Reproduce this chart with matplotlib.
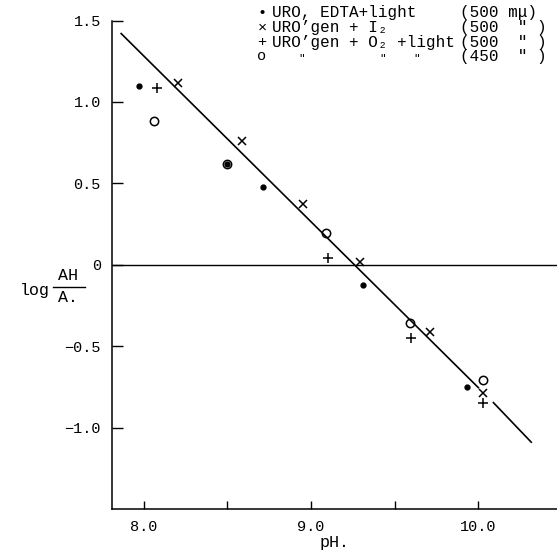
import matplotlib
matplotlib.use("Agg")
import matplotlib.pyplot as plt
from matplotlib.lines import Line2D

# URO, EDTA + light (500 mu)
ph_dot = [7.97, 8.50, 8.71, 9.31, 9.93]
log_dot = [1.10, 0.62, 0.48, -0.125, -0.75]
# URO'gen + I2 (500)
ph_x = [8.205, 8.59, 8.95, 9.29, 9.71, 10.03]
log_x = [1.115, 0.76, 0.37, 0.015, -0.415, -0.79]
# URO'gen + O2 + light (500)
ph_plus = [8.08, 9.10, 9.60, 10.03]
log_plus = [1.085, 0.04, -0.45, -0.85]
# same, 450
ph_circ = [8.06, 8.50, 9.09, 9.59, 10.03]
log_circ = [0.88, 0.62, 0.195, -0.36, -0.71]

# fitted line, drawn in two pieces (gap near pH 10)
fit_ph_a = [7.865, 10.0]
fit_log_a = [1.42, -0.755]
fit_ph_b = [10.09, 10.316]
fit_log_b = [-0.847, -1.09]

xticks_major = [8.0, 9.0, 10.0]
xticks_minor = [8.5, 9.5]
xlabels = ["8.0", "9.0", "10.0"]
yticks = [1.5, 1.0, 0.5, 0, -0.5, -1.0]
ylabels = ["1.5", "1.0", "0.5", "0", "\u22120.5", "\u22121.0"]

legend_rows = [
    ("\u2022", "URO, EDTA+light", "(500 m\u03bc)"),
    ("\u00d7", "URO\u2019gen + I\u2082", "(500  \u02ba )"),
    ("+", "URO\u2019gen + O\u2082 +light", "(500  \u02ba )"),
    ("o", "", "(450  \u02ba )"),
]

FONT = "Liberation Mono"
plt.rcParams["font.family"] = [FONT, "DejaVu Sans Mono", "DejaVu Sans"]

fig = plt.figure(figsize=(5.57, 5.55), dpi=100)
ax = fig.add_axes([0.201, 0.083, 0.799, 0.880])
ax.set_xlim(7.81, 10.47)
ax.set_ylim(-1.5, 1.5)

ax.plot(fit_ph_a, fit_log_a, color="black", lw=1.2)
ax.plot(fit_ph_b, fit_log_b, color="black", lw=1.2)
ax.axhline(0, color="black", lw=1.0)

ax.plot(ph_dot, log_dot, "o", color="black", ms=3.5, ls="none")
ax.plot(ph_x, log_x, "x", color="black", ms=6, mew=1.1, ls="none")
ax.plot(ph_plus, log_plus, "+", color="black", ms=7, mew=1.1, ls="none")
ax.plot(ph_circ, log_circ, "o", mfc="none", mec="black", ms=6, mew=1.1, ls="none")

for s in ["top", "right"]:
    ax.spines[s].set_visible(False)
ax.spines["left"].set_linewidth(1.1)
ax.spines["bottom"].set_linewidth(1.1)

ax.set_xticks(xticks_major)
ax.set_xticklabels(xlabels, fontsize=11)
ax.set_xticks(xticks_minor, minor=True)
ax.tick_params(axis="x", which="both", direction="in", length=6, width=1.0, pad=8)
ax.set_yticks(yticks)
ax.set_yticklabels(ylabels, fontsize=11)
ax.tick_params(axis="y", direction="in", length=8, width=1.0, pad=8)

ax.set_xlabel("pH.", fontsize=12, labelpad=1)

# y label written as log AH/A. with a fraction bar
fig.text(20 / 557, 1 - 290 / 555, "log", fontsize=12, va="center", ha="left")
fig.text(68 / 557, 1 - 276 / 555, "AH", fontsize=12, va="center", ha="center")
fig.text(68 / 557, 1 - 298 / 555, "A.", fontsize=12, va="center", ha="center")
fig.add_artist(Line2D([53 / 557, 85 / 557], [1 - 287 / 555, 1 - 287 / 555],
                      color="black", lw=1.0))

# legend drawn as typed text
row_y = [13, 27.5, 42, 56.5]
for (sym, name, wl), y in zip(legend_rows, row_y):
    yy = 1 - y / 555
    fig.text(262 / 557, yy, sym, fontsize=11, ha="center", va="center")
    fig.text(272 / 557, yy, name, fontsize=11.5, ha="left", va="center")
    fig.text(460 / 557, yy, wl, fontsize=11.5, ha="left", va="center")
# ditto marks for the 450 row
for xd in [302, 383, 417]:
    fig.text(xd / 557, 1 - 59 / 555, "\u02ba", fontsize=8, ha="center", va="center")

fig.savefig("out.png", dpi=100)
